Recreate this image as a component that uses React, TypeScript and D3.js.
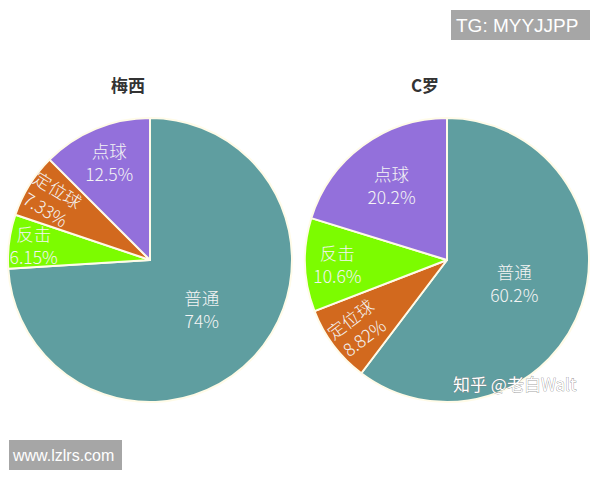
import React from 'react'
import * as d3 from 'd3'

const width = 600
const height = 480
const radius = 142

const players = ['梅西', 'C罗']
const messiCategories = ['普通', '反击', '定位球', '点球']
const messiValues = [74, 6.15, 7.33, 12.5]
const ronaldoCategories = ['普通', '定位球', '反击', '点球']
const ronaldoValues = [60.2, 8.82, 10.6, 20.2]

const colorByCategory: Record<string, string> = {
  '普通': '#5f9ea0',
  '反击': '#7cfc00',
  '定位球': '#d2691e',
  '点球': '#9370db',
}

const font = '"Noto Sans CJK SC", "Noto Sans", sans-serif'

type Datum = { name: string, value: number }

function Pie({ title, categories, values, cx, cy }: { title: string, categories: string[], values: number[], cx: number, cy: number }) {
  const data: Datum[] = categories.map((name, i) => ({ name, value: values[i] }))
  const total = d3.sum(values)
  const arcs = d3.pie<Datum>().sort(null).value(d => d.value)(data)
  const arcFn = d3.arc<d3.PieArcDatum<Datum>>().innerRadius(0).outerRadius(radius)

  return (
    <g transform={`translate(${cx},${cy})`}>
      <text x={-22} y={-168} textAnchor="middle" fontFamily={font} fontWeight="bold" fontSize={17} fill="#333">{title}</text>
      {arcs.map(a => (
        <path key={a.data.name} d={arcFn(a)!} fill={colorByCategory[a.data.name]} stroke="#fffbe8" strokeWidth={2} strokeLinejoin="round" />
      ))}
      {arcs.map(a => {
        const p = a.value / total
        // smaller slices push their label out toward the rim
        const lr = radius * Math.max(0.5, Math.min(0.85, 0.9 - 1.2 * p))
        const [x, y] = d3.arc<d3.PieArcDatum<Datum>>().innerRadius(lr).outerRadius(lr).centroid(a)
        // long names in thin slices are turned to run along the radius
        const rotate = a.data.name.length > 2 && p < 0.1
        let angle = 0
        if (rotate) {
          angle = Math.atan2(-y, -x) * 180 / Math.PI
          if (angle > 90) angle -= 180
          if (angle < -90) angle += 180
        }
        return (
          <g key={a.data.name} transform={`translate(${x},${y}) rotate(${angle})`}>
            <text textAnchor="middle" fontFamily={font} fontSize={17.5} fontWeight={300} fill="#f4f4f4">
              <tspan x={0} dy={-4}>{a.data.name}</tspan>
              <tspan x={0} dy={23}>{`${a.data.value}%`}</tspan>
            </text>
          </g>
        )
      })}
    </g>
  )
}

export default function App() {
  return (
    <div style={{ position: 'fixed', left: 0, top: 0, width, height, background: '#fff' }}>
      <svg width={width} height={height}>
        <Pie title={players[0]} categories={messiCategories} values={messiValues} cx={150} cy={260} />
        <Pie title={players[1]} categories={ronaldoCategories} values={ronaldoValues} cx={447} cy={260} />
        <rect x={451} y={10} width={139} height={30} fill="#a6a6a6" />
        <text x={456} y={32} fontFamily="Liberation Sans, Arial, sans-serif" fontSize={19} fill="#fff">TG: MYYJJPP</text>
        <rect x={9} y={440} width={113} height={30} fill="#a6a6a6" />
        <text x={13} y={461} fontFamily="Liberation Sans, Arial, sans-serif" fontSize={16} fill="#fff">www.lzlrs.com</text>
        <text x={453} y={391} fontFamily={font} fontSize={17} fill="#fff" stroke="#777" strokeWidth={0.6} paintOrder="stroke">知乎 @老白Walt</text>
      </svg>
    </div>
  )
}
